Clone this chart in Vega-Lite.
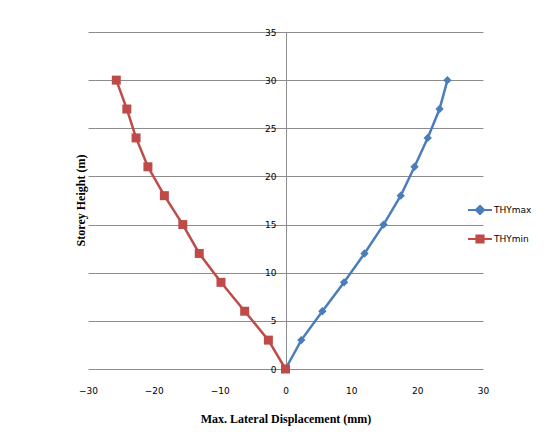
{
  "$schema": "https://vega.github.io/schema/vega-lite/v6.json",
  "width": 395,
  "height": 337,
  "autosize": {"type": "none"},
  "padding": {"left": 88, "top": 32, "right": 77, "bottom": 79},
  "background": "white",
  "config": {"view": {"stroke": null}},
  "data": {
    "values": [
      {"series": "THYmax", "height": 0, "disp": 0},
      {"series": "THYmax", "height": 3, "disp": 2.4},
      {"series": "THYmax", "height": 6, "disp": 5.6},
      {"series": "THYmax", "height": 9, "disp": 8.9},
      {"series": "THYmax", "height": 12, "disp": 12.0},
      {"series": "THYmax", "height": 15, "disp": 14.9},
      {"series": "THYmax", "height": 18, "disp": 17.5},
      {"series": "THYmax", "height": 21, "disp": 19.6},
      {"series": "THYmax", "height": 24, "disp": 21.6},
      {"series": "THYmax", "height": 27, "disp": 23.4},
      {"series": "THYmax", "height": 30, "disp": 24.6},
      {"series": "THYmin", "height": 0, "disp": 0},
      {"series": "THYmin", "height": 3, "disp": -2.6},
      {"series": "THYmin", "height": 6, "disp": -6.2},
      {"series": "THYmin", "height": 9, "disp": -9.8},
      {"series": "THYmin", "height": 12, "disp": -13.1},
      {"series": "THYmin", "height": 15, "disp": -15.6},
      {"series": "THYmin", "height": 18, "disp": -18.4},
      {"series": "THYmin", "height": 21, "disp": -20.9},
      {"series": "THYmin", "height": 24, "disp": -22.7},
      {"series": "THYmin", "height": 27, "disp": -24.1},
      {"series": "THYmin", "height": 30, "disp": -25.7}
    ]
  },
  "encoding": {
    "x": {
      "field": "disp", "type": "quantitative",
      "scale": {"domain": [-30, 30], "nice": false, "zero": false},
      "axis": {
        "title": "Max. Lateral Displacement (mm)",
        "values": [-30, -20, -10, 0, 10, 20, 30],
        "grid": false, "domain": false, "ticks": false,
        "labelFlush": false,
        "labelFont": "DejaVu Sans", "labelFontSize": 9, "labelColor": "#000",
        "labelPadding": 17,
        "titleFont": "Liberation Serif", "titleFontSize": 12, "titleFontWeight": "bold",
        "titleColor": "#000", "titlePadding": 18
      }
    },
    "y": {
      "field": "height", "type": "quantitative",
      "scale": {"domain": [0, 35], "nice": false},
      "axis": {
        "title": "Storey Height (m)",
        "values": [0, 5, 10, 15, 20, 25, 30, 35],
        "offset": -198,
        "labelFlush": false,
        "grid": true, "gridColor": "#8c8c8c", "gridWidth": 1,
        "domainColor": "#8c8c8c", "tickColor": "#8c8c8c", "tickSize": 4,
        "labelFont": "DejaVu Sans", "labelFontSize": 9, "labelColor": "#000",
        "labelPadding": 6,
        "titleFont": "Liberation Serif", "titleFontSize": 12, "titleFontWeight": "bold",
        "titleColor": "#000", "titleAngle": -90,
        "titleX": -206, "titleY": 168, "titleAlign": "center", "titleBaseline": "middle"
      }
    }
  },
  "layer": [
    {
      "mark": {"type": "line", "strokeWidth": 2.5},
      "encoding": {
        "color": {
          "field": "series", "type": "nominal",
          "scale": {"domain": ["THYmax", "THYmin"], "range": ["#4A7EBB", "#BE4B48"]},
          "legend": {
            "title": null,
            "orient": "none",
            "legendX": 379,
            "legendY": 165,
            "symbolType": "M-1,0H1M-0.3,-0.3H0.3V0.3H-0.3Z",
            "symbolSize": 576,
            "symbolStrokeWidth": 2,
            "rowPadding": 7,
            "labelFont": "DejaVu Sans", "labelFontSize": 9, "labelColor": "#000",
            "labelOffset": 1,
            "encode": {
              "symbols": {
                "update": {
                  "shape": {"signal": "datum.value === 'THYmax' ? 'M-1,0H1M0,-0.35L0.35,0L0,0.35L-0.35,0Z' : 'M-1,0H1M-0.3,-0.3H0.3V0.3H-0.3Z'"},
                  "fill": {"signal": "datum.value === 'THYmax' ? '#4A7EBB' : '#BE4B48'"},
                  "fillOpacity": {"value": 1}
                }
              }
            }
          }
        }
      }
    },
    {
      "transform": [{"filter": "datum.series === 'THYmax'"}],
      "mark": {"type": "point", "filled": true, "opacity": 1, "shape": "diamond", "size": 70, "color": "#4A7EBB"}
    },
    {
      "transform": [{"filter": "datum.series === 'THYmin'"}],
      "mark": {"type": "point", "filled": true, "opacity": 1, "shape": "square", "size": 81, "color": "#BE4B48"}
    }
  ]
}
